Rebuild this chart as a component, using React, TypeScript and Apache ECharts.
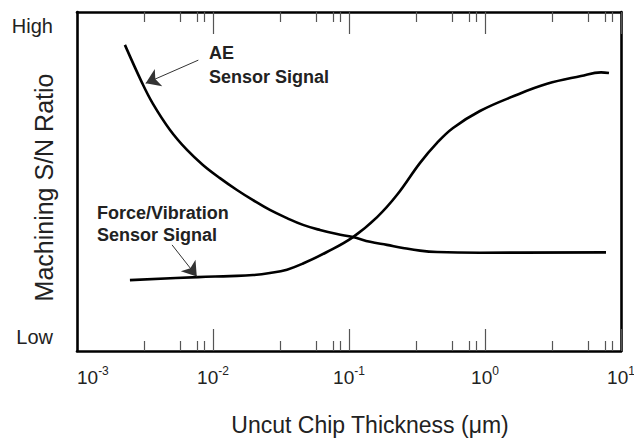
import React, { useEffect, useRef } from "react";
import * as echarts from "echarts";

// x positions of the labelled decades and their exponents
const X_LABEL_VALUES = [0.001, 0.01, 0.1, 1, 10];
const X_LABEL_EXPONENTS = ["-3", "-2", "-1", "0", "1"];
// long and short tick marks on the log axis (as drawn in the figure)
const MAJOR_TICKS = [0.01, 0.1, 1, 10];
const MINOR_TICKS = [
  0.0031, 0.0057, 0.0076, 0.0086,
  0.031, 0.057, 0.076, 0.086,
  0.31, 0.57, 0.76, 0.86,
  3.1, 5.7, 7.6, 8.6,
];
// qualitative y scale: 0 = bottom, 100 = top
const Y_LABEL_VALUES = [4, 96];
const Y_LABEL_TEXTS = ["Low", "High"];

// AE sensor signal
const AE_X = [0.00225, 0.00301, 0.00362, 0.00483, 0.00644, 0.00843, 0.01125, 0.015, 0.0197, 0.0262, 0.035, 0.0459, 0.0612, 0.0817, 0.107, 0.143, 0.19, 0.249, 0.333, 0.444, 0.918, 7.76];
const AE_Y = [90.3, 79.1, 72.9, 65.2, 59.3, 54.9, 51.0, 47.5, 44.5, 41.6, 39.2, 37.2, 35.7, 34.5, 33.6, 32.2, 31.3, 30.4, 29.6, 29.2, 29.0, 29.1];

// Force / vibration sensor signal
const FV_X = [0.00245, 0.00777, 0.0133, 0.0197, 0.0262, 0.035, 0.0459, 0.0688, 0.107, 0.161, 0.225, 0.333, 0.444, 0.582, 0.918, 1.63, 2.86, 5.08, 7.13, 8.16];
const FV_Y = [20.9, 21.8, 22.1, 22.4, 23.0, 24.0, 25.8, 29.2, 33.6, 39.5, 46.0, 55.5, 61.4, 65.8, 70.8, 75.2, 78.8, 81.1, 82.2, 82.0];

// annotation arrows: [from, to] in data units
const AE_ARROW = [[0.0078, 85.8], [0.0032, 79.0]];
const FV_ARROW = [[0.005, 31.3], [0.0076, 22.0]];

const FONT = "'Liberation Sans', Arial, Helvetica, sans-serif";
const TEXT = "#222";

export default function App() {
  const ref = useRef<HTMLDivElement>(null);

  useEffect(() => {
    if (!ref.current) return;
    const chart = echarts.init(ref.current, null, { renderer: "svg" });

    const frame = { show: true, lineStyle: { color: "#000", width: 2.6 } };
    const baseX = {
      type: "log",
      logBase: 10,
      min: 0.001,
      max: 10,
      splitLine: { show: false },
      minorTick: { show: false },
      minorSplitLine: { show: false },
    };
    const tick = (len: number, values: number[]) => ({
      show: true,
      inside: true,
      length: len,
      customValues: values,
      lineStyle: { color: "#555", width: 1.2 },
    });

    const labelIndex = (v: number) => {
      let best = 0;
      X_LABEL_VALUES.forEach((x, i) => {
        if (Math.abs(Math.log10(x) - Math.log10(v)) < Math.abs(Math.log10(X_LABEL_VALUES[best]) - Math.log10(v))) best = i;
      });
      return best;
    };

    const arrowLine = (arrow: number[][]) => ({
      silent: true,
      symbol: ["none", "arrow"],
      symbolSize: 14,
      label: { show: false },
      emphasis: { disabled: true },
      lineStyle: { color: "#333", width: 1, type: "solid" },
      itemStyle: { color: "#111" },
      data: [[{ coord: arrow[0] }, { coord: arrow[1] }]],
    });

    chart.setOption({
      animation: false,
      backgroundColor: "#fff",
      grid: { left: 77, right: 13, top: 12, bottom: 88, containLabel: false, outerBoundsMode: "none" },
      xAxis: [
        {
          ...baseX,
          position: "bottom",
          axisLine: frame,
          axisTick: tick(22, MAJOR_TICKS),
          axisLabel: {
            show: true,
            customValues: X_LABEL_VALUES,
            margin: 14,
            alignMinLabel: "left",
            formatter: (v: number) => `{b|10}{s|${X_LABEL_EXPONENTS[labelIndex(v)]}}`,
            rich: {
              b: { fontFamily: FONT, fontSize: 19, color: TEXT, lineHeight: 22, verticalAlign: "bottom" },
              s: { fontFamily: FONT, fontSize: 12, color: TEXT, lineHeight: 22, verticalAlign: "top" },
            },
          },
          name: "Uncut Chip Thickness (\u03bcm)",
          nameLocation: "middle",
          nameMoveOverlap: false,
          nameGap: 62,
          nameTextStyle: { fontFamily: FONT, fontSize: 23, color: TEXT, padding: [0, 0, 0, 42] },
        },
        {
          ...baseX,
          position: "bottom",
          axisLine: { show: false },
          axisTick: tick(10, MINOR_TICKS),
          axisLabel: { show: false },
        },
        {
          ...baseX,
          position: "top",
          axisLine: frame,
          axisTick: tick(22, MAJOR_TICKS),
          axisLabel: { show: false },
        },
        {
          ...baseX,
          position: "top",
          axisLine: { show: false },
          axisTick: tick(10, MINOR_TICKS),
          axisLabel: { show: false },
        },
      ],
      yAxis: [
        {
          type: "value",
          min: 0,
          max: 100,
          position: "left",
          axisLine: frame,
          axisTick: { show: false },
          splitLine: { show: false },
          axisLabel: {
            show: true,
            customValues: Y_LABEL_VALUES,
            formatter: (v: number) => Y_LABEL_TEXTS[Y_LABEL_VALUES.indexOf(v)] ?? "",
            margin: 24,
            fontFamily: FONT,
            fontSize: 20,
            color: TEXT,
          },
          name: "Machining S/N Ratio",
          nameLocation: "middle",
          nameMoveOverlap: false,
          nameGap: 21,
          nameTextStyle: { fontFamily: FONT, fontSize: 25, color: TEXT, padding: [0, 12, 0, 0] },
        },
        {
          type: "value",
          min: 0,
          max: 100,
          position: "right",
          axisLine: frame,
          axisTick: { show: false },
          splitLine: { show: false },
          axisLabel: { show: false },
        },
      ],
      graphic: [
        {
          type: "text",
          left: 209,
          top: 41,
          silent: true,
          style: {
            text: "AE\nSensor Signal",
            font: `bold 18px ${FONT}`,
            fill: TEXT,
            lineHeight: 24,
          },
        },
        {
          type: "text",
          left: 97,
          top: 202,
          silent: true,
          style: {
            text: "Force/Vibration\nSensor Signal",
            font: `bold 18px ${FONT}`,
            fill: TEXT,
            lineHeight: 22,
          },
        },
      ],
      series: [
        {
          name: "AE Sensor Signal",
          type: "line",
          smooth: 0.4,
          symbol: "none",
          xAxisIndex: 0,
          yAxisIndex: 0,
          lineStyle: { color: "#000", width: 2.6 },
          data: AE_X.map((x, i) => [x, AE_Y[i]]),
          markLine: arrowLine(AE_ARROW),
        },
        {
          name: "Force/Vibration Sensor Signal",
          type: "line",
          smooth: 0.4,
          symbol: "none",
          xAxisIndex: 0,
          yAxisIndex: 0,
          lineStyle: { color: "#000", width: 2.6 },
          data: FV_X.map((x, i) => [x, FV_Y[i]]),
          markLine: arrowLine(FV_ARROW),
        },
      ],
    });

    return () => chart.dispose();
  }, []);

  return (
    <div
      ref={ref}
      style={{ position: "fixed", left: 0, top: 0, width: 634, height: 439, background: "#fff" }}
    />
  );
}
